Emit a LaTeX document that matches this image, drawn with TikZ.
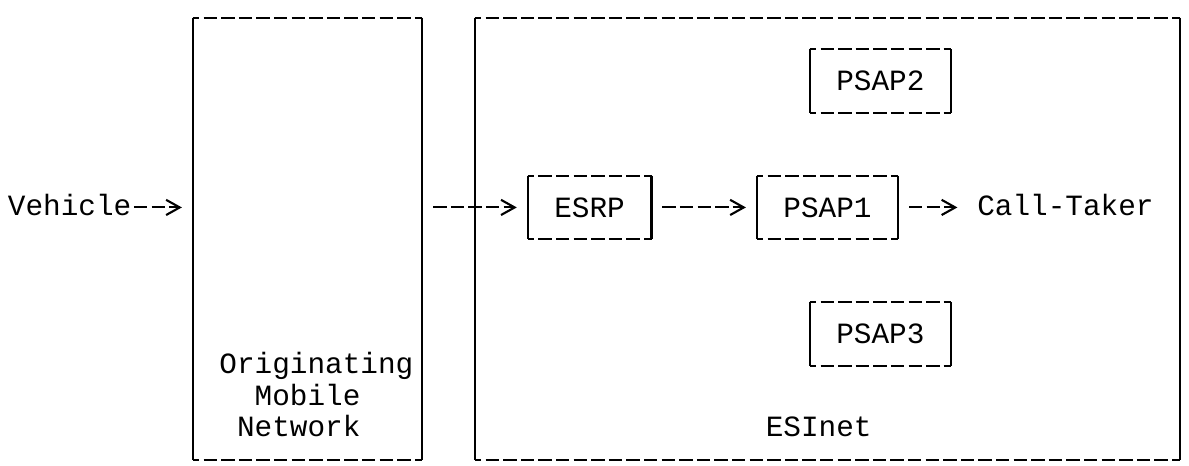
\documentclass[tikz,border=0pt]{standalone}
\usepackage{fontspec}
\setmonofont{Liberation Mono}
\usetikzlibrary{arrows.meta,positioning,calc}
\newcommand{\colw}{4.40625mm}
\newcommand{\rowh}{7.8925mm}
\newcommand{\asciifont}{\ttfamily\fontsize{20.9}{22.46}\selectfont}
\tikzset{
  asciibox/.style ={rectangle, draw=none, inner sep=0pt, font=\asciifont, text=black},
  vline/.style    ={draw=black, line width=1.5pt},
  hline/.style    ={draw=black, line width=1.5pt, dash pattern=on 3.35mm off 1.05mm, dash phase=1.675mm},
  lbl/.style      ={font=\asciifont, inner sep=0pt, anchor=base, text=black},
  arr/.style      ={-{Straight Barb[length=3.4mm,width=3.8mm]}, draw=black, line width=1.5pt,
                    dash pattern=on 3.35mm off 1.05mm, shorten <=2.7mm, shorten >=2.7mm},
}
\begin{document}
\begin{tikzpicture}[x=\colw, y=-\rowh]
  \useasboundingbox (-0.948,-0.57) rectangle (66.51,14.19);

  % the two networks
  \node[asciibox, minimum width=13*\colw, minimum height=14*\rowh] (omn) at (16.5,7) {};
  \node[asciibox, minimum width=40*\colw, minimum height=14*\rowh] (esi) at (46,7) {};

  % boxes inside the ESInet
  \node[asciibox, minimum width=7*\colw, minimum height=2*\rowh] (esrp)  at (32.5,6) {ESRP};
  \node[asciibox, minimum width=8*\colw, minimum height=2*\rowh] (psap1) at (46,6)   {PSAP1};
  \node[asciibox, minimum width=8*\colw, minimum height=2*\rowh] (psap2) at (49,2)   {PSAP2};
  \node[asciibox, minimum width=8*\colw, minimum height=2*\rowh] (psap3) at (49,10)  {PSAP3};

  % ascii style frames: solid sides, dashed top and bottom
  \foreach \b in {omn,esi,esrp,psap1,psap2,psap3}{
    \draw[vline] (\b.north west) -- (\b.south west) (\b.north east) -- (\b.south east);
    \draw[hline] (\b.north west) -- (\b.north east) (\b.south west) -- (\b.south east);
  }

  % labels
  \node[lbl] (veh)    at (3,6.27)     {Vehicle};
  \node[lbl] (ctk)    at (59.5,6.27)  {Call-Taker};
  \node[lbl] (lblorg) at (17,11.27)   {Originating};
  \node[lbl] (lblmob) at (16.5,12.27) {Mobile};
  \node[lbl] (lblnet) at (16,13.27)   {Network};
  \node[lbl] (lblesi) at (45.5,13.27) {ESInet};

  \draw[arr,shorten <=0.6mm] (veh.east |- esrp.west) -- (omn.west |- esrp.west);
  \draw[arr] (omn.east |- esrp.west) -- (esrp.west);
  \draw[arr] (esrp.east) -- (psap1.west);
  \draw[arr,shorten >=4.9mm] (psap1.east) -- (ctk.west |- psap1.east);
\end{tikzpicture}
\end{document}
